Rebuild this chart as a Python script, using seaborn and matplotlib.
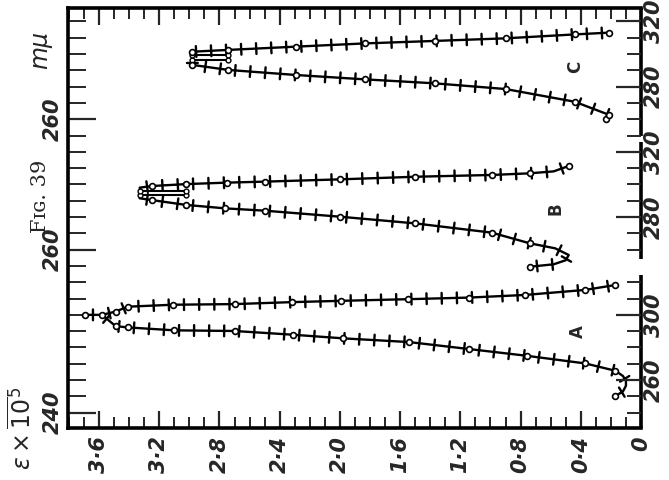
import matplotlib
matplotlib.use("Agg")
import matplotlib.pyplot as plt
import matplotlib.patheffects as pe
import seaborn as sns
import numpy as np

# each panel has its own mμ scale; B and C are shifted up by 80 and 160 mμ
OFF_A, OFF_B, OFF_C = 0, 80, 160

# curve A  (eps x 10^-5 , wavelength mμ)
eps_A_lo = [0.17, 0.12, 0.10, 0.10, 0.12, 0.17, 0.37, 0.76, 1.14, 1.54, 1.98, 2.31, 2.70, 3.10, 3.41, 3.49, 3.58, 3.69]
lam_A_lo = [250.2, 253.0, 256.5, 259.5, 262.5, 265.7, 270.2, 274.9, 279.0, 283.3, 285.6, 287.8, 290.1, 290.5, 292.3, 293.1, 300.0, 300.0]
eps_A_hi = [3.58, 3.49, 3.41, 3.11, 2.70, 2.32, 1.99, 1.55, 1.14, 0.77, 0.37, 0.17]
lam_A_hi = [300.0, 302.0, 305.0, 306.2, 306.6, 307.8, 308.6, 309.6, 310.6, 312.2, 315.3, 318.3]
pts_A_eps = [0.17, 0.17, 0.37, 0.76, 1.14, 1.54, 1.98, 2.31, 2.70, 3.10, 3.41, 3.49, 3.58, 3.69,
             3.49, 3.41, 3.11, 2.70, 2.32, 1.99, 1.55, 1.14, 0.77, 0.37, 0.17]
pts_A_lam = [250.2, 265.7, 270.2, 274.9, 279.0, 283.3, 285.6, 287.8, 290.1, 290.5, 292.3, 293.1, 300.0, 300.0,
             302.0, 305.0, 306.2, 306.6, 307.8, 308.6, 309.6, 310.6, 312.2, 315.3, 318.3]

# curve B
eps_B_lo = [0.74, 0.58, 0.50, 0.48, 0.57, 0.74, 0.99, 1.50, 2.00, 2.50, 2.76, 3.02, 3.25, 3.33]
lam_B_lo = [249.5, 251.0, 253.5, 256.7, 260.8, 263.9, 270.4, 276.1, 280.2, 283.9, 285.3, 287.4, 290.4, 291.5]
eps_B_hi = [3.33, 3.25, 3.02, 2.75, 2.50, 2.00, 1.50, 0.99, 0.74, 0.58, 0.48]
lam_B_hi = [298.0, 299.0, 300.2, 301.1, 301.7, 303.1, 304.7, 305.8, 306.8, 308.0, 311.3]
rung_B_eps = [3.02, 3.33]
rung_B_lam = [293.5, 296.0]
pts_B_eps = [0.74, 0.74, 0.99, 1.50, 2.00, 2.50, 2.76, 3.02, 3.25,
             3.25, 3.02, 2.75, 2.50, 2.00, 1.50, 0.99, 0.74, 0.48]
pts_B_lam = [249.5, 263.9, 270.4, 276.1, 280.2, 283.9, 285.3, 287.4, 290.4,
             299.0, 300.2, 301.1, 301.7, 303.1, 304.7, 305.8, 306.8, 311.3]

# curve C
eps_C_lo = [0.23, 0.21, 0.44, 0.90, 1.37, 1.83, 2.29, 2.74, 2.98]
lam_C_lo = [260.0, 262.6, 270.7, 278.5, 282.0, 284.4, 287.1, 290.2, 293.3]
eps_C_hi = [2.98, 2.74, 2.29, 1.83, 1.37, 0.90, 0.44, 0.21]
lam_C_hi = [301.4, 302.5, 304.5, 306.5, 308.0, 309.6, 312.0, 313.1]
rung_C_eps = [2.98, 2.74]
rung_C_lam = [296.4, 299.4]
pts_C_eps = [0.23, 0.21, 0.44, 0.90, 1.37, 1.83, 2.29, 2.74, 2.98,
             2.98, 2.74, 2.29, 1.83, 1.37, 0.90, 0.44, 0.21]
pts_C_lam = [260.0, 262.6, 270.7, 278.5, 282.0, 284.4, 287.1, 290.2, 293.3,
             301.4, 302.5, 304.5, 306.5, 308.0, 309.6, 312.0, 313.1]

# axis labels
eps_ticks = [0, 0.4, 0.8, 1.2, 1.6, 2.0, 2.4, 2.8, 3.2, 3.6]
eps_labels = ["0", "0·4", "0·8", "1·2", "1·6", "2·0", "2·4", "2·8", "3·2", "3·6"]
left_ticks = [240, 340, 420]          # A 240, B 260, C 260
left_labels = ["240", "260", "260"]
right_ticks = [260, 300, 360, 400, 440, 480]
right_labels = ["260", "300", "280", "320", "280", "320"]
right_spine_parts = [(230.6, 324.5), (334.0, 406.0), (410.0, 488.2)]

sns.set_style("white")
plt.rcParams['font.family'] = ['DejaVu Sans']

fig = plt.figure(figsize=(6.69, 4.8), dpi=100)
ax = fig.add_axes([68/669, 1 - 428/480, (641 - 68)/669, (428 - 8)/480])

# short cross strokes every ~0.1 of eps along each trace
cross = [pe.TickedStroke(spacing=10.8, angle=90, length=0.36),
         pe.TickedStroke(spacing=10.8, angle=-90, length=0.36),
         pe.Normal()]

def draw_curve(eps, lam, off):
    y = [v + off for v in lam]
    sns.lineplot(x=eps, y=y, sort=False, estimator=None, ax=ax, color="black", lw=1.7,
                 path_effects=cross)

def draw_points(eps, lam, off):
    y = [v + off for v in lam]
    ax.plot(eps, y, ls="none", marker="o", ms=4.2, mfc="white", mec="black", mew=1.2, zorder=4)

draw_curve(eps_A_lo, lam_A_lo, OFF_A)
draw_curve(eps_A_hi, lam_A_hi, OFF_A)
draw_points(pts_A_eps, pts_A_lam, OFF_A)

draw_curve(eps_B_lo, lam_B_lo, OFF_B)
draw_curve(eps_B_hi, lam_B_hi, OFF_B)
ax.plot([eps_B_lo[-1], eps_B_hi[0]], [lam_B_lo[-1] + OFF_B, lam_B_hi[0] + OFF_B], color="black", lw=1.7)
for lv in rung_B_lam:
    ax.plot(rung_B_eps, [lv + OFF_B] * 2, color="black", lw=1.5, marker="o", ms=3.5, mfc="white", mew=1.0)
draw_points(pts_B_eps, pts_B_lam, OFF_B)

draw_curve(eps_C_lo + eps_C_hi, lam_C_lo + lam_C_hi, OFF_C)
for lv in rung_C_lam:
    ax.plot(rung_C_eps, [lv + OFF_C] * 2, color="black", lw=1.5, marker="o", ms=3.5, mfc="white", mew=1.0)
draw_points(pts_C_eps, pts_C_lam, OFF_C)

ax.set_xlim(3.806, 0)
ax.set_ylim(230.6, 488.2)
ax.set_xlabel("")
ax.set_ylabel("")

tick_font = dict(fontsize=15, style="italic", fontweight="bold", rotation=90)
ax.set_xticks(eps_ticks)
ax.set_xticklabels(eps_labels, va="top", ha="center", **tick_font)
ax.set_xticks(np.arange(0, 3.81, 0.1), minor=True)
ax.tick_params(axis="x", which="major", direction="in", length=12, width=1.6, top=True, bottom=True, pad=6)
ax.tick_params(axis="x", which="minor", direction="in", length=8, width=1.4, top=True, bottom=True)

ax.set_yticks(left_ticks)
ax.set_yticklabels(left_labels, va="center", **tick_font)
ax.set_yticks(np.arange(240, 481, 10), minor=True)
ax.tick_params(axis="y", which="major", direction="in", length=20, width=1.6, left=True, right=False, pad=4)
ax.tick_params(axis="y", which="minor", direction="in", length=13, width=1.4, left=True, right=False)

for side in ["top", "left", "bottom"]:
    ax.spines[side].set_linewidth(2.6)
    ax.spines[side].set_color("black")
ax.spines["right"].set_visible(False)
for lo, hi in right_spine_parts:
    ax.plot([0, 0], [lo, hi], color="black", lw=2.6, clip_on=False, solid_capstyle="butt")

ax2 = ax.twinx()
ax2.set_ylim(ax.get_ylim())
for s in ax2.spines.values():
    s.set_visible(False)
ax2.set_yticks(right_ticks)
ax2.set_yticklabels(right_labels, va="center", **tick_font)
ax2.set_yticks([t for t in range(240, 481, 10) if t not in right_ticks and t != 330], minor=True)
ax2.tick_params(axis="y", which="major", direction="in", length=18, width=1.6, pad=2)
ax2.tick_params(axis="y", which="minor", direction="in", length=10, width=1.4)

# panel letters and labels
ax.text(0.42, 290 + OFF_A, "A", rotation=90, fontsize=12, fontweight="bold", ha="center", va="center")
ax.text(0.57, 285 + OFF_B, "B", rotation=90, fontsize=12, fontweight="bold", ha="center", va="center")
ax.text(0.44, 292 + OFF_C, "C", rotation=90, fontsize=12, fontweight="bold", ha="center", va="center")

fig.text(40/669, 1 - 50/480, "mμ", rotation=90, fontsize=17, style="italic", ha="center", va="center")
fig.text(40/669, 1 - 196/480, "Fɪɢ. 39", rotation=90, fontsize=15, family="DejaVu Serif", ha="center", va="center")
fig.text(22/669, 1 - 428/480, r"$\epsilon\times\overline{10}^{5}$", rotation=90, fontsize=17, ha="center", va="center")

fig.savefig("out.png", dpi=100)
